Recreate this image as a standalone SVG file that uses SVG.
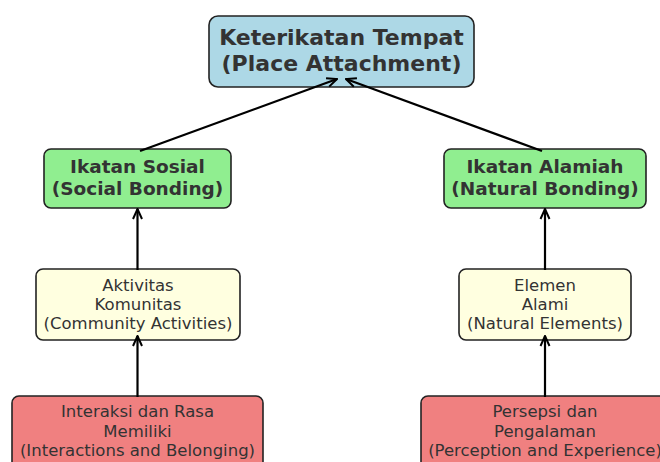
<svg xmlns="http://www.w3.org/2000/svg" width="660" height="462" viewBox="0 0 660 462">
<defs>
<marker id="ah" viewBox="0 0 12 12" refX="11" refY="6" markerWidth="12" markerHeight="12" markerUnits="userSpaceOnUse" orient="auto">
<path d="M1,1.5 L11,6 L1,10.5" fill="none" stroke="#000" stroke-width="2"/>
</marker>
</defs>
<style>
.box{stroke:#222;stroke-width:1.6}
.t{font-family:"DejaVu Sans",sans-serif;fill:#333;text-anchor:middle}
.b{font-weight:bold}
.n{font-size:16.5px}
.c{stroke:#000;stroke-width:2.2;fill:none}
</style>
<rect width="660" height="462" fill="#fff"/>
<g id="place">
<rect class="box" x="209" y="16" width="265" height="71" rx="9" fill="#ADD8E6"/>
<text class="t b" x="341.5" y="45" font-size="22">Keterikatan Tempat</text>
<text class="t b" x="341.5" y="71" font-size="22">(Place Attachment)</text>
</g>
<g id="sosial">
<rect class="box" x="44" y="149" width="187" height="59" rx="7" fill="#90EE90"/>
<text class="t b" x="137.5" y="172.5" font-size="18.5">Ikatan Sosial</text>
<text class="t b" x="137.5" y="194.5" font-size="18.5">(Social Bonding)</text>
</g>
<g id="alamiah">
<rect class="box" x="444" y="149" width="202" height="59" rx="7" fill="#90EE90"/>
<text class="t b" x="545" y="172.5" font-size="18.5">Ikatan Alamiah</text>
<text class="t b" x="545" y="194.5" font-size="18.5">(Natural Bonding)</text>
</g>
<g id="aktivitas">
<rect class="box" x="36" y="269" width="204" height="71" rx="7" fill="#FFFFE0"/>
<text class="t n" x="138" y="291">Aktivitas</text>
<text class="t n" x="138" y="310">Komunitas</text>
<text class="t n" x="138" y="329">(Community Activities)</text>
</g>
<g id="elemen">
<rect class="box" x="459" y="269" width="172" height="71" rx="7" fill="#FFFFE0"/>
<text class="t n" x="545" y="291">Elemen</text>
<text class="t n" x="545" y="310">Alami</text>
<text class="t n" x="545" y="329">(Natural Elements)</text>
</g>
<g id="interaksi">
<rect class="box" x="12" y="396" width="251" height="80" rx="7" fill="#F08080"/>
<text class="t n" x="137.5" y="417">Interaksi dan Rasa</text>
<text class="t n" x="137.5" y="437">Memiliki</text>
<text class="t n" x="137.5" y="456">(Interactions and Belonging)</text>
</g>
<g id="persepsi">
<rect class="box" x="421" y="396" width="250" height="80" rx="7" fill="#F08080"/>
<text class="t n" x="545" y="417">Persepsi dan</text>
<text class="t n" x="545" y="437">Pengalaman</text>
<text class="t n" x="545" y="456">(Perception and Experience)</text>
</g>
<g id="connectors">
<line class="c" x1="140" y1="151" x2="337" y2="79" marker-end="url(#ah)"/>
<line class="c" x1="542" y1="151" x2="346" y2="79" marker-end="url(#ah)"/>
<line class="c" x1="137.5" y1="270" x2="137.5" y2="209" marker-end="url(#ah)"/>
<line class="c" x1="545" y1="270" x2="545" y2="209" marker-end="url(#ah)"/>
<line class="c" x1="137.5" y1="397" x2="137.5" y2="336" marker-end="url(#ah)"/>
<line class="c" x1="545" y1="397" x2="545" y2="336" marker-end="url(#ah)"/>
</g>
</svg>
